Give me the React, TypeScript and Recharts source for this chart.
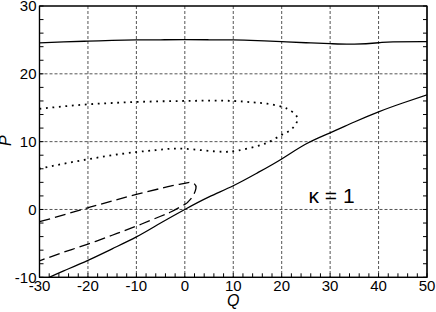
import React from 'react';
import { LineChart, Line, XAxis, YAxis, CartesianGrid, ReferenceDot, ReferenceArea } from 'recharts';

// Upper solid branch
const topQ = [-30, -25, -20, -15, -10, -5, 0, 5, 10, 15, 20, 25, 30, 35, 40, 43, 50];
const topP = [24.55, 24.7, 24.82, 24.93, 25.0, 25.02, 25.03, 25.02, 25.0, 24.9, 24.75, 24.58, 24.45, 24.38, 24.58, 24.72, 24.74];

// Dotted loop (upper branch out to the tip, then back along the lower branch)
const dotQ = [-30, -25, -20, -15, -10, -5, 0, 5, 10, 14, 17, 20, 22, 23.2, 23.0, 21.8, 20, 17.5, 14.5, 11, 8, 4, 0, -3, -6, -10, -15, -20, -25, -30];
const dotP = [14.85, 15.2, 15.5, 15.7, 15.85, 15.95, 16.0, 16.05, 16.0, 15.8, 15.6, 15.15, 14.5, 13.6, 12.7, 11.7, 11.0, 10.0, 9.25, 8.7, 8.5, 8.7, 8.95, 8.95, 8.75, 8.47, 8.0, 7.4, 6.75, 6.0];

// Dashed loop
const dashQ = [-30, -25, -20, -15, -10, -5, -2, 0, 1, 2, 2.3, 1.6, 0.7, 0, -2.8, -5, -10, -15, -20, -25, -30];
const dashP = [-1.8, -0.8, 0.25, 1.25, 2.23, 3.1, 3.6, 3.85, 4.0, 3.75, 3.1, 1.9, 1.15, 0.75, -0.34, -1.0, -2.45, -3.8, -5.1, -6.3, -7.57];

// Lower solid branch
const lowQ = [-28, -25, -20, -15, -10, -5, 0, 5, 10, 15, 20, 25, 30, 35, 40, 45, 50];
const lowP = [-10.0, -9.05, -7.5, -5.8, -4.05, -2.0, 0.0, 1.85, 3.5, 5.4, 7.45, 9.65, 11.3, 12.9, 14.4, 15.7, 16.9];

const xTicks = [-30, -28, -26, -24, -22, -20, -18, -16, -14, -12, -10, -8, -6, -4, -2, 0, 2, 4, 6, 8, 10, 12, 14, 16, 18, 20, 22, 24, 26, 28, 30, 32, 34, 36, 38, 40, 42, 44, 46, 48, 50];
const yTicks = [-10, -8, -6, -4, -2, 0, 2, 4, 6, 8, 10, 12, 14, 16, 18, 20, 22, 24, 26, 28, 30];
const xGrid = [-20, -10, 0, 10, 20, 30, 40];
const yGrid = [0, 10, 20];
const xDomain = [-30, 50];
const yDomain = [-10, 30];

const kappaLabel = 'κ = 1';
const kappaPos = { q: 30.3, p: 2.05 };

const zip = (qs: number[], ps: number[]) => qs.map((q, i) => ({ q, p: ps[i] }));

const topData = zip(topQ, topP);
const dotData = zip(dotQ, dotP);
const dashData = zip(dashQ, dashP);
const lowData = zip(lowQ, lowP);

const FONT = 'Liberation Sans, Arial, Helvetica, sans-serif';
const isMajor = (v: number) => v % 10 === 0;
const TICK = 4;
const TC = '#000';

const BottomTick = (props: any) => {
  const { x, y, payload } = props;
  const v = payload.value;
  return (
    <g>
      <line x1={x} x2={x} y1={y - 3} y2={y - 3 - TICK} stroke={TC} strokeWidth={1} />
      {isMajor(v) && (
        <text x={x} y={y} dy="0.71em" textAnchor="middle" fontSize={15} fill="#000" fontFamily={FONT}>
          {String(v)}
        </text>
      )}
    </g>
  );
};

const LeftTick = (props: any) => {
  const { x, y, payload } = props;
  const v = payload.value;
  return (
    <g>
      <line x1={x + 3} x2={x + 3 + TICK} y1={y} y2={y} stroke={TC} strokeWidth={1} />
      {isMajor(v) && (
        <text x={x} y={y} dy="0.355em" textAnchor="end" fontSize={15} fill="#000" fontFamily={FONT}>
          {String(v)}
        </text>
      )}
    </g>
  );
};

const TopTick = (props: any) => {
  const { x, y } = props;
  return <line x1={x} x2={x} y1={y} y2={y + TICK} stroke={TC} strokeWidth={1} />;
};

const RightTick = (props: any) => {
  const { x, y } = props;
  return <line x1={x} x2={x - TICK} y1={y} y2={y} stroke={TC} strokeWidth={1} />;
};

const PLabel = (props: any) => {
  const vb = props.viewBox || { x: 0, y: 0, width: 0, height: 0 };
  const x = vb.x + 11;
  const y = vb.y + vb.height / 2 - 1;
  return (
    <text
      x={x}
      y={y}
      transform={`rotate(-90 ${x} ${y})`}
      textAnchor="middle"
      fontSize={16}
      fontStyle="italic"
      fill="#000"
      fontFamily={FONT}
    >
      P
    </text>
  );
};

export default function App() {
  return (
    <div style={{ position: 'absolute', left: 0, top: 0, width: 436, height: 312, background: '#fff' }}>
      <LineChart width={436} height={312} margin={{ top: 5, right: 8, bottom: 0, left: 0 }} style={{ fontFamily: FONT }}>
        <CartesianGrid
          stroke="#555"
          strokeDasharray="3 2"
          verticalValues={xGrid}
          horizontalValues={yGrid}
        />
        <XAxis
          dataKey="q"
          type="number"
          domain={xDomain}
          allowDataOverflow
          ticks={xTicks}
          interval={0}
          height={34.7}
          tickSize={0}
          tickMargin={3}
          axisLine={{ stroke: '#000', strokeWidth: 1.2 }}
          tickLine={false}
          tick={BottomTick}
          label={{ value: 'Q', position: 'insideBottom', offset: 6, fontSize: 16, fontStyle: 'italic', fill: '#000', fontFamily: FONT }}
        />
        <XAxis
          xAxisId="top"
          orientation="top"
          type="number"
          domain={xDomain}
          allowDataOverflow
          ticks={xTicks}
          interval={0}
          height={1}
          tickSize={0}
          tickMargin={0}
          tick={TopTick}
          axisLine={{ stroke: '#000', strokeWidth: 1.2 }}
          tickLine={false}
        />
        <YAxis
          dataKey="p"
          type="number"
          domain={yDomain}
          allowDataOverflow
          ticks={yTicks}
          interval={0}
          width={39.5}
          tickSize={0}
          tickMargin={3}
          axisLine={{ stroke: '#000', strokeWidth: 1.2 }}
          tickLine={false}
          tick={LeftTick}
          label={{ content: PLabel }}
        />
        <YAxis
          yAxisId="right"
          orientation="right"
          type="number"
          domain={yDomain}
          allowDataOverflow
          ticks={yTicks}
          interval={0}
          width={1}
          tickSize={0}
          tickMargin={0}
          tick={RightTick}
          axisLine={{ stroke: '#000', strokeWidth: 1.2 }}
          tickLine={false}
        />
        <ReferenceArea
          x1={xDomain[0]}
          x2={xDomain[1]}
          y1={yDomain[0]}
          y2={yDomain[1]}
          fill="none"
          fillOpacity={0}
          stroke="#000"
          strokeWidth={1.2}
        />
        <Line data={topData} dataKey="p" type="natural" stroke="#000" strokeWidth={1.3} dot={false} activeDot={false} isAnimationActive={false} />
        <Line data={dotData} dataKey="p" type="natural" stroke="#000" strokeWidth={1.8} strokeDasharray="1.8 4.7" dot={false} activeDot={false} isAnimationActive={false} />
        <Line data={dashData} dataKey="p" type="natural" stroke="#000" strokeWidth={1.3} strokeDasharray="11 5" dot={false} activeDot={false} isAnimationActive={false} />
        <Line data={lowData} dataKey="p" type="natural" stroke="#000" strokeWidth={1.3} dot={false} activeDot={false} isAnimationActive={false} />
        <ReferenceDot
          x={kappaPos.q}
          y={kappaPos.p}
          r={0}
          fill="none"
          stroke="none"
          label={{ value: kappaLabel, position: 'center', fontSize: 21, fill: '#000', fontFamily: FONT }}
        />
      </LineChart>
    </div>
  );
}
